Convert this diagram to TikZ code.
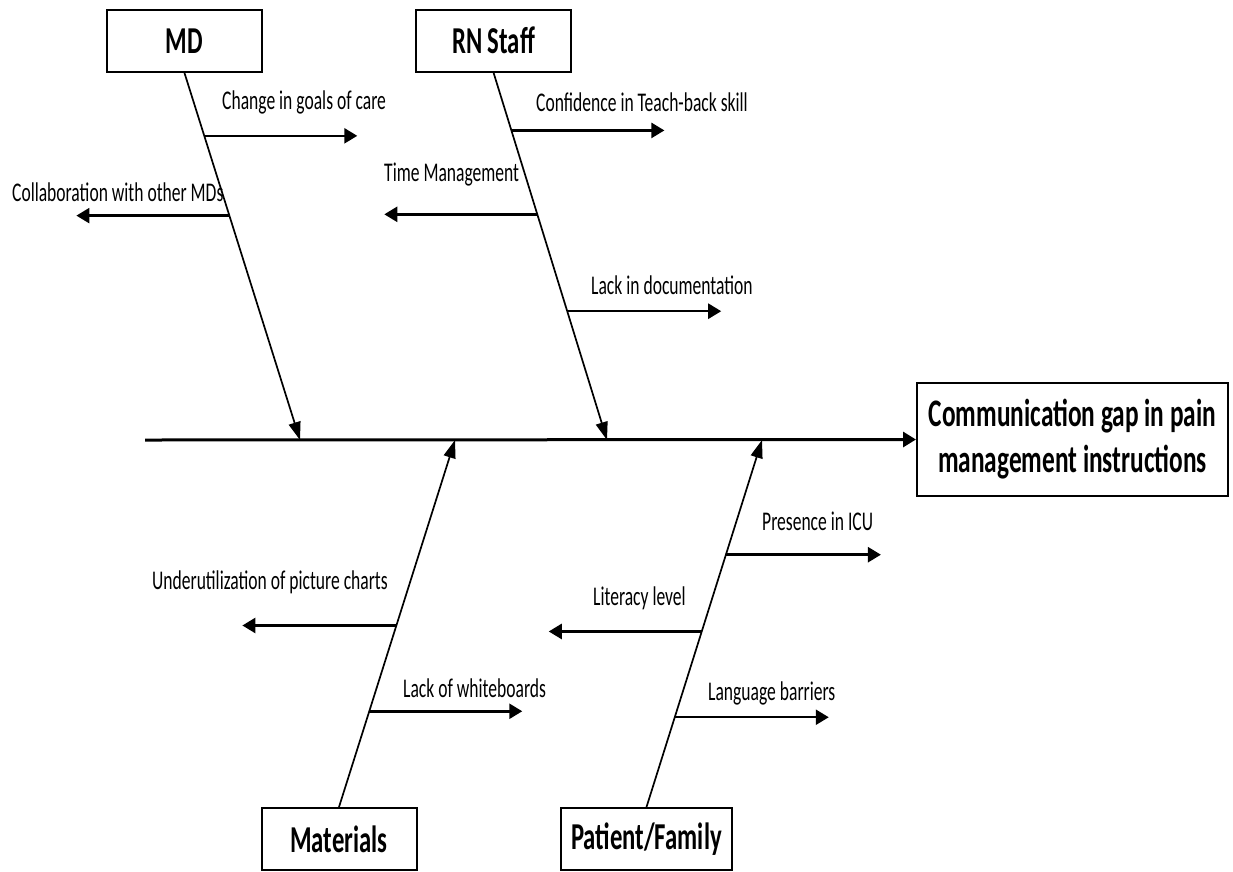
\documentclass[tikz,border=0pt]{standalone}
\usepackage{fontspec}
\setmainfont[FakeStretch=0.65]{Carlito}
\usetikzlibrary{arrows.meta,calc}

\tikzset{
  catbox/.style={draw, line width=2pt, minimum width=155pt, minimum height=62pt,
    inner sep=0pt, font=\bfseries\fontsize{38}{40}\selectfont},
  effectbox/.style={draw, line width=2pt, minimum width=311pt, minimum height=113pt,
    inner sep=0pt, align=center, font=\bfseries\fontsize{39}{46}\selectfont},
  spine/.style={line width=3pt, -{Triangle[length=13pt,width=15pt]}},
  bone/.style={line width=1.7pt, -{Triangle[length=18pt,width=12pt]}},
  twig/.style={line width=2.5pt, -{Triangle[length=13pt,width=15pt]}},
  cause/.style={anchor=west, inner sep=0pt, font=\fontsize{27}{29}\selectfont}
}

\begin{document}
\begin{tikzpicture}[x=1pt, y=-1pt]
\useasboundingbox (0,0) rectangle (1233,871);

% category boxes and the effect
\node[catbox] (md)  at (184.5,41)   {MD};
\node[catbox] (rn)  at (493.5,40.5) {RN Staff};
\node[catbox] (mat) at (339,839)    {Materials};
\node[catbox, minimum width=171pt] (pf) at (646.5,839) {Patient/Family};
\node[effectbox] (effect) at (1072.5,439.5) {Communication gap in pain\\management instructions};

% spine
\coordinate (tail) at (145,440);
\draw[spine] (tail) -- (effect.west);

% main bones
\coordinate (mdhead)  at (300,440);
\coordinate (rnhead)  at (607,440);
\coordinate (mathead) at (455,440);
\coordinate (pfhead)  at (762,440);
\draw[bone] (md.south)  -- (mdhead);
\draw[bone] (rn.south)  -- (rnhead);
\draw[bone] (mat.north) -- (mathead);
\draw[bone] (pf.north)  -- (pfhead);

% MD causes
\coordinate (md1) at ($(md.south)!0.1712!(mdhead)$);
\coordinate (md2) at ($(md.south)!0.3886!(mdhead)$);
\draw[twig] (md1) -- ++(153,0);
\draw[twig] (md2) -- ++(-153,0);
\node[cause] (lmd1) at (222,102) {Change in goals of care};
\node[cause] (lmd2) at (12,192)  {Collaboration with other MDs};

% RN Staff causes
\coordinate (rn1) at ($(rn.south)!0.1576!(rnhead)$);
\coordinate (rn2) at ($(rn.south)!0.3859!(rnhead)$);
\coordinate (rn3) at ($(rn.south)!0.6495!(rnhead)$);
\draw[twig] (rn1) -- ++(153,0);
\draw[twig] (rn2) -- ++(-153,0);
\draw[twig] (rn3) -- ++(154,0);
\node[cause] (lrn1) at (536,102) {Confidence in Teach-back skill};
\node[cause] (lrn2) at (384,175) {Time Management};
\node[cause] (lrn3) at (591,285) {Lack in documentation};

% Materials causes
\coordinate (mat1) at ($(mat.north)!0.4946!(mathead)$);
\coordinate (mat2) at ($(mat.north)!0.2609!(mathead)$);
\draw[twig] (mat1) -- ++(-154,0);
\draw[twig] (mat2) -- ++(153,0);
\node[cause] (lmat1) at (152,582) {Underutilization of picture charts};
\node[cause] (lmat2) at (403,688) {Lack of whiteboards};

% Patient/Family causes
\coordinate (pf1) at ($(pf.north)!0.6875!(pfhead)$);
\coordinate (pf2) at ($(pf.north)!0.4783!(pfhead)$);
\coordinate (pf3) at ($(pf.north)!0.2446!(pfhead)$);
\draw[twig] (pf1) -- ++(155,0);
\draw[twig] (pf2) -- ++(-153,0);
\draw[twig] (pf3) -- ++(154,0);
\node[cause] (lpf1) at (762,521) {Presence in ICU};
\node[cause] (lpf2) at (593,598) {Literacy level};
\node[cause] (lpf3) at (708,693) {Language barriers};
\end{tikzpicture}
\end{document}
